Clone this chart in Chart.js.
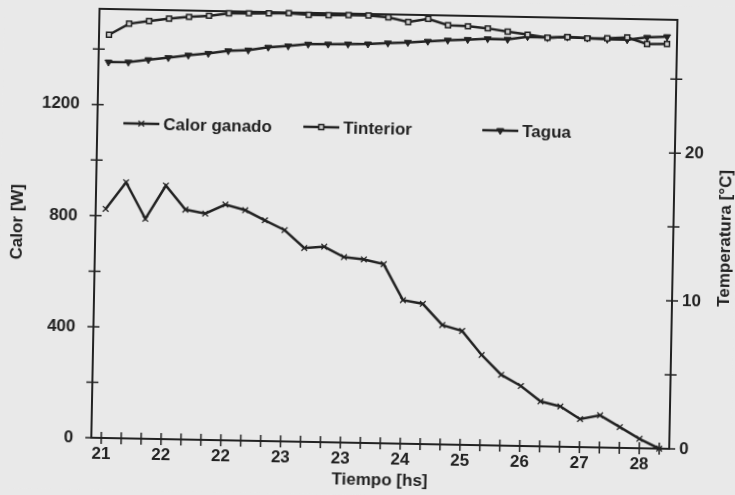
<!DOCTYPE html>
<html>
<head>
<meta charset="utf-8">
<script src="https://cdn.jsdelivr.net/npm/chart.js@4.4.1/dist/chart.umd.min.js"></script>
<style>
  html, body { margin: 0; padding: 0; background: #e9e9e9; overflow: hidden; }
  /* el escaneo original esta levemente girado */
  #grafico { display: block; transform: rotate(1.1deg); transform-origin: 50% 50%; background: #e9e9e9; }
</style>
</head>
<body>
<canvas id="grafico" width="735" height="495"></canvas>
<script>
// --- DATOS ---
const tiempoLabels = ["21", "22", "22", "23", "23", "24", "25", "26", "27", "28"];
const calorTicks = [0, 400, 800, 1200];
const tempTicks = [0, 10, 20];

const calorGanado = [825, 922, 792, 913, 828, 815, 849, 830, 795, 761, 698, 704, 668, 661, 645,
  517, 505, 430, 410, 325, 255, 216, 162, 145, 101, 116, 75, 34, 0];
const tInterior = [27.26, 28.03, 28.24, 28.43, 28.57, 28.67, 28.86, 28.89, 28.92, 28.95, 28.86, 28.87,
  28.9, 28.9, 28.8, 28.51, 28.74, 28.34, 28.3, 28.18, 27.98, 27.81, 27.63, 27.7, 27.64, 27.67, 27.75, 27.33, 27.36];
const tAgua = [25.41, 25.43, 25.62, 25.79, 25.98, 26.12, 26.33, 26.4, 26.62, 26.73, 26.88, 26.91,
  26.94, 26.97, 27.06, 27.13, 27.23, 27.33, 27.4, 27.48, 27.46, 27.67, 27.63, 27.7, 27.65, 27.6, 27.59, 27.78, 27.85];

// una etiqueta cada tres mediciones
const categorias = calorGanado.map((_, i) => (i % 3 === 0 ? tiempoLabels[i / 3] : ""));

const TINTA = "#222";
const FUENTE = { family: "'Liberation Sans', Arial, sans-serif", size: 17, weight: "bold" };
const tituloTemp = "Temperatura [°C]";

// --- PLUGINS ---
const marcoPlugin = {
  id: "marco",
  beforeDatasetsDraw(chart) {
    const { ctx, chartArea: a, scales } = chart;
    ctx.save();
    ctx.strokeStyle = TINTA;
    ctx.lineWidth = 2;
    ctx.strokeRect(a.left, a.top, a.right - a.left, a.bottom - a.top);

    // marcas en cruz sobre los ejes
    ctx.lineWidth = 1.5;
    ctx.beginPath();
    scales.x.ticks.forEach((t, i) => {
      const px = scales.x.getPixelForTick(i);
      ctx.moveTo(px, a.bottom - 6); ctx.lineTo(px, a.bottom + 6);
    });
    scales.y.ticks.forEach(t => {
      if (t.value % 200 !== 0) return;
      const py = scales.y.getPixelForValue(t.value);
      ctx.moveTo(a.left - 6, py); ctx.lineTo(a.left + 6, py);
    });
    scales.y1.ticks.forEach(t => {
      if (t.value % 5 !== 0) return;
      const py = scales.y1.getPixelForValue(t.value);
      ctx.moveTo(a.right - 6, py); ctx.lineTo(a.right + 6, py);
    });
    ctx.stroke();
    ctx.restore();
  },
  afterDraw(chart) {
    const { ctx, chartArea: a } = chart;
    ctx.save();
    ctx.fillStyle = TINTA;
    ctx.font = `bold ${FUENTE.size}px ${FUENTE.family}`;

    // titulo del eje derecho, leido de abajo hacia arriba
    ctx.translate(a.right + 52, (a.top + a.bottom) / 2 + 3);
    ctx.rotate(-Math.PI / 2);
    ctx.textAlign = "center";
    ctx.textBaseline = "middle";
    ctx.fillText(tituloTemp, 0, 0);
    ctx.restore();

    // leyenda dentro del area del grafico
    const posiciones = [26, 206, 385];
    const ly = a.top + 114;
    chart.data.datasets.forEach((ds, i) => {
      const x0 = a.left + posiciones[i];
      ctx.save();
      ctx.strokeStyle = TINTA;
      ctx.lineWidth = 2.5;
      ctx.beginPath();
      ctx.moveTo(x0, ly); ctx.lineTo(x0 + 36, ly);
      ctx.stroke();
      if (Chart.helpers && Chart.helpers.drawPoint) {
        ctx.fillStyle = ds.pointBackgroundColor;
        ctx.strokeStyle = ds.pointBorderColor;
        ctx.lineWidth = ds.pointBorderWidth;
        Chart.helpers.drawPoint(ctx, {
          pointStyle: ds.pointStyle, rotation: ds.pointRotation || 0,
          radius: ds.pointRadius, borderWidth: ds.pointBorderWidth
        }, x0 + 18, ly);
      }
      ctx.fillStyle = TINTA;
      ctx.font = `bold ${FUENTE.size}px ${FUENTE.family}`;
      ctx.textAlign = "left";
      ctx.textBaseline = "middle";
      ctx.fillText(ds.label, x0 + 40, ly + 1);
      ctx.restore();
    });
  }
};

// sin relleno extra de las etiquetas extremas
const sinRellenoV = w => s => { s.width = w; s.paddingTop = 0; s.paddingBottom = 0; };

// --- GRAFICO ---
new Chart(document.getElementById("grafico").getContext("2d"), {
  type: "line",
  data: {
    labels: categorias,
    datasets: [
      {
        label: "Calor ganado", data: calorGanado, yAxisID: "y",
        borderColor: TINTA, borderWidth: 2.5, tension: 0, clip: false,
        pointStyle: "crossRot", pointRadius: 4, pointBorderWidth: 1.3,
        pointBorderColor: TINTA, pointBackgroundColor: TINTA
      },
      {
        label: "Tinterior", data: tInterior, yAxisID: "y1",
        borderColor: TINTA, borderWidth: 2.5, tension: 0, clip: false,
        pointStyle: "rect", pointRadius: 3.5, pointBorderWidth: 1.5,
        pointBorderColor: TINTA, pointBackgroundColor: "#cfcfcf"
      },
      {
        label: "Tagua", data: tAgua, yAxisID: "y1",
        borderColor: TINTA, borderWidth: 2.5, tension: 0, clip: false,
        pointStyle: "triangle", pointRotation: 180, pointRadius: 4, pointBorderWidth: 1,
        pointBorderColor: TINTA, pointBackgroundColor: TINTA
      }
    ]
  },
  options: {
    responsive: false,
    animation: false,
    devicePixelRatio: 1,
    layout: { padding: { top: 14, left: 0, right: 0, bottom: 0 } },
    plugins: { legend: { display: false }, tooltip: { enabled: false } },
    scales: {
      x: {
        type: "category",
        offset: true,
        grid: { display: false, drawTicks: false, offset: false },
        border: { display: false },
        ticks: { autoSkip: false, maxRotation: 0, padding: 6, color: TINTA, font: FUENTE },
        title: { display: true, text: "Tiempo [hs]", color: TINTA, font: FUENTE, padding: { top: 4, bottom: 4 } },
        afterFit: s => { s.height = 52; s.paddingLeft = 0; s.paddingRight = 0; }
      },
      y: {
        position: "left",
        min: 0, max: 1545,
        grid: { display: false, drawTicks: false },
        border: { display: false },
        ticks: {
          stepSize: 200, padding: 18, color: TINTA, font: FUENTE,
          callback: v => (calorTicks.includes(v) ? v : "")
        },
        title: { display: true, text: "Calor [W]", color: TINTA, font: FUENTE, padding: { top: 7, bottom: 0 } },
        afterFit: sinRellenoV(95)
      },
      y1: {
        position: "right",
        min: 0, max: 29,
        grid: { display: false, drawTicks: false },
        border: { display: false },
        ticks: {
          stepSize: 5, padding: 10, color: TINTA, font: FUENTE,
          callback: v => (tempTicks.includes(v) ? v : "")
        },
        afterFit: sinRellenoV(62)
      }
    }
  },
  plugins: [marcoPlugin]
});
</script>
</body>
</html>
